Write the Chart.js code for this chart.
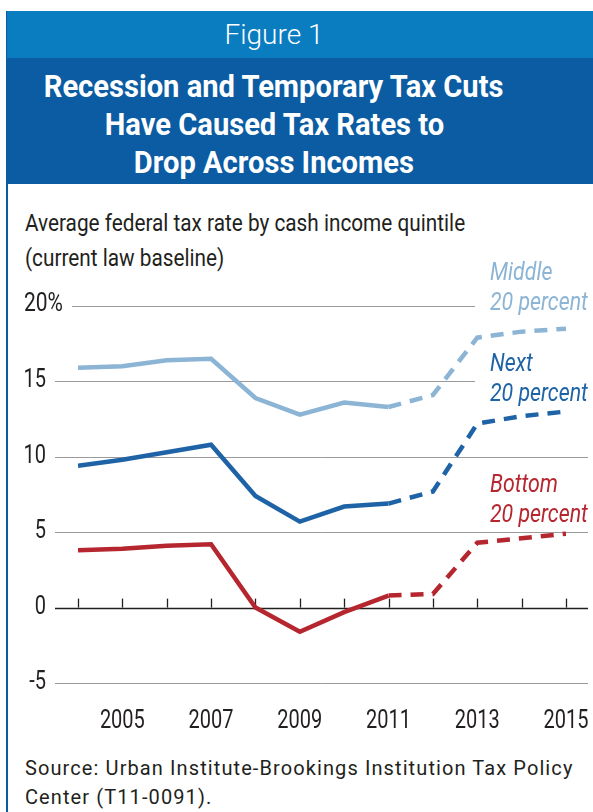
<!DOCTYPE html>
<html>
<head>
<meta charset="utf-8">
<script src="https://cdn.jsdelivr.net/npm/chart.js@4/dist/chart.umd.min.js"></script>
<style>
    html, body { margin: 0; padding: 0; background: #fff; }
    body { width: 593px; height: 812px; position: relative; overflow: hidden; }
    .frame { position: absolute; left: 6px; top: 11px; width: 2px; bottom: 0; background: #0b5ca3; }
    .fig { position: absolute; left: 7px; top: 11px; right: 0; height: 47px; background: #0a7cc0; color: #fff;
        font: 300 28px "Roboto", sans-serif; text-align: center; line-height: 47px; padding-right: 52px; box-sizing: border-box; }
    .title { position: absolute; left: 7px; top: 58px; right: 0; height: 126px; background: #0b5ca3; color: #fff;
        font: 700 32px/38px "Roboto", sans-serif; text-align: center; padding-top: 9px; padding-right: 52px; box-sizing: border-box; }
    .title span { display: inline-block; transform: scaleX(0.91); white-space: nowrap; }
    .sub { position: absolute; left: 25px; top: 206px; font: 400 24px/35px "Roboto", sans-serif; color: #231f20;
        transform: scaleX(0.865); transform-origin: 0 0; white-space: nowrap; }
    .src { position: absolute; left: 25px; top: 754px; font: 400 20px/29px "Roboto", sans-serif; letter-spacing: 1.1px; color: #231f20; }
    canvas { position: absolute; left: 0; top: 0; }
</style>
</head>
<body>
<div class="frame"></div>
<div class="fig">Figure 1</div>
<div class="title"><span>Recession and Temporary Tax Cuts</span><br><span>Have Caused Tax Rates to</span><br><span>Drop Across Incomes</span></div>
<div class="sub">Average federal tax rate by cash income quintile<br>(current law baseline)</div>
<div class="src">Source: Urban Institute-Brookings Institution Tax Policy<br>Center (T11-0091).</div>
<div style="position:absolute;left:0;top:0;width:593px;height:812px;"><canvas id="c"></canvas></div>
<script>
const years = [2004, 2005, 2006, 2007, 2008, 2009, 2010, 2011, 2012, 2013, 2014, 2015];
const middle = [15.9, 16.0, 16.4, 16.5, 13.9, 12.8, 13.6, 13.3, 14.1, 17.9, 18.3, 18.5];
const next20 = [9.4, 9.8, 10.3, 10.8, 7.4, 5.7, 6.7, 6.9, 7.7, 12.2, 12.7, 13.0];
const bottom = [3.8, 3.9, 4.1, 4.2, 0.0, -1.6, -0.3, 0.8, 0.9, 4.3, 4.6, 4.9];
const yTicks = [-5, 0, 5, 10, 15, 20];
const yLabels = ['-5', '0', '5', '10', '15', '20%'];
const xLabels = [2005, 2007, 2009, 2011, 2013, 2015];
const lastActual = 2011;

const C_MID = '#8cb4d5', C_NEXT = '#1f63a7', C_BOT = '#b5262f';
const AXIS_FONT = '400 25px "Roboto", sans-serif';
const LABEL_FONT = 'italic 400 26px "Roboto", sans-serif';

// condensed text: draw with a horizontal squeeze
function narrowText(ctx, s, x, y, sx, align) {
    ctx.save();
    ctx.translate(x, y);
    ctx.scale(sx, 1);
    ctx.textAlign = align;
    ctx.fillText(s, 0, 0);
    ctx.restore();
}

const dashAfter = (ctx) => (years[ctx.p0DataIndex] >= lastActual ? [13, 9] : undefined);
const ds = (label, data, color) => ({
    label, data: years.map((y, i) => ({ x: y, y: data[i] })),
    borderColor: color, borderWidth: 4.5, pointRadius: 0, tension: 0,
    borderCapStyle: 'butt', borderJoinStyle: 'miter', segment: { borderDash: dashAfter },
});

const gridPlugin = {
    id: 'grid',
    beforeDatasetsDraw(chart) {
        const { ctx } = chart;
        const x = chart.scales.x, y = chart.scales.y;
        ctx.save();
        yTicks.forEach((t, i) => {
            const py = Math.round(y.getPixelForValue(t)) + 0.5;
            const x0 = t === 20 ? 72 : 55;
            const x1 = t >= 15 ? 475 : 588;
            ctx.beginPath();
            ctx.moveTo(x0, py); ctx.lineTo(x1, py);
            ctx.strokeStyle = t === 0 ? '#231f20' : '#9a9a9a';
            ctx.lineWidth = t === 0 ? 1.3 : 1;
            ctx.stroke();
            ctx.fillStyle = '#231f20';
            ctx.font = AXIS_FONT;
            ctx.textBaseline = 'middle';
            if (t === 20) narrowText(ctx, yLabels[i], 24, py - 2, 0.84, 'left');
            else narrowText(ctx, yLabels[i], 46, py - 1, 0.8, 'right');
        });
        const p0 = y.getPixelForValue(0);
        ctx.strokeStyle = '#231f20'; ctx.lineWidth = 1.3;
        years.forEach((yr) => {
            const px = Math.round(x.getPixelForValue(yr)) + 0.5;
            ctx.beginPath(); ctx.moveTo(px, p0); ctx.lineTo(px, p0 - 9); ctx.stroke();
        });
        ctx.textBaseline = 'middle';
        const pb = y.getPixelForValue(-5);
        xLabels.forEach((yr) => narrowText(ctx, String(yr), x.getPixelForValue(yr), pb + 39, 0.8, 'center'));
        ctx.restore();
    },
    afterDatasetsDraw(chart) {
        const { ctx } = chart;
        ctx.save();
        ctx.font = LABEL_FONT; ctx.textBaseline = 'middle';
        [[C_MID, 'Middle', '20 percent', 273], [C_NEXT, 'Next', '20 percent', 364], [C_BOT, 'Bottom', '20 percent', 485]]
            .forEach(([c, a, b, ty]) => {
                ctx.fillStyle = c;
                narrowText(ctx, a, 490, ty, 0.82, 'left');
                narrowText(ctx, b, 490, ty + 30, 0.82, 'left');
            });
        ctx.restore();
    },
};

new Chart(document.getElementById('c'), {
    type: 'line',
    data: { datasets: [ds('Middle 20 percent', middle, C_MID), ds('Next 20 percent', next20, C_NEXT), ds('Bottom 20 percent', bottom, C_BOT)] },
    options: {
        responsive: true, maintainAspectRatio: false, animation: false,
        layout: { padding: { left: 78, right: 27, top: 306, bottom: 129 } },
        plugins: { legend: { display: false }, tooltip: { enabled: false } },
        scales: {
            x: { type: 'linear', min: 2004, max: 2015, display: false },
            y: { min: -5, max: 20, display: false },
        },
    },
    plugins: [gridPlugin],
});
</script>
</body>
</html>
